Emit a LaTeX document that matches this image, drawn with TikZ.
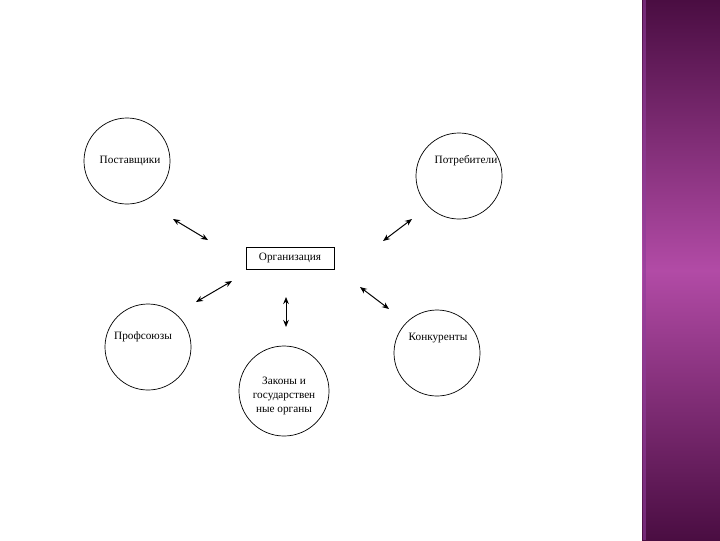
\documentclass[tikz,border=0pt]{standalone}
\usepackage{fontspec}
\setmainfont{Liberation Serif}
\usetikzlibrary{arrows.meta}
\definecolor{plumdark}{HTML}{4A0D42}
\definecolor{plumlight}{HTML}{B24BA6}
\definecolor{plumline}{HTML}{8E3C9A}

\begin{document}
\begin{tikzpicture}[x=0.025cm,y=-0.025cm,>={Stealth[length=5pt,width=4pt]},
    party/.style={draw,circle,line width=0.5pt,minimum size=2.15cm,inner sep=0pt},
    txt/.style={font=\fontsize{8}{10}\selectfont,align=center,inner sep=0pt},
    link/.style={<->,line width=0.7pt}]
  \useasboundingbox[fill=white] (0,0) rectangle (720,540);
  % side panel
  \fill[top color=plumdark,bottom color=plumlight] (642,0) rectangle (720,271);
  \fill[top color=plumlight,bottom color=plumdark] (642,270) rectangle (720,540);
  \fill[plumline,opacity=0.6] (643,0) rectangle (646,540);
  % nodes
  \node[party,label={[txt,shift={(3,0)}]center:Поставщики}] (sup) at (127,161) {};
  \node[party,label={[txt,shift={(7,-15)}]center:Потребители}] (cons) at (459,176) {};
  \node[party,label={[txt,shift={(-5,-10)}]center:Профсоюзы}] (union) at (148,347) {};
  \node[party,label={[txt,shift={(1,-15)}]center:Конкуренты}] (comp) at (437,353) {};
  \node[party,minimum size=2.25cm,label={[txt,shift={(0,5)}]center:Законы и\\государствен\\ные органы}] (law) at (284,391) {};
  \node[draw,line width=0.5pt,minimum width=2.2cm,minimum height=0.55cm,txt] (org) at (290,258) {Организация};
  % arrow ends
  \coordinate (a1) at (173,219); \coordinate (b1) at (208,240);
  \coordinate (a2) at (412,219); \coordinate (b2) at (383,241);
  \coordinate (a3) at (232,281); \coordinate (b3) at (196,302);
  \coordinate (a4) at (286,297); \coordinate (b4) at (286,327);
  \coordinate (a5) at (360,287); \coordinate (b5) at (389,309);
  \foreach \i in {1,...,5}
    \draw[link] (a\i) -- (b\i);
\end{tikzpicture}
\end{document}
